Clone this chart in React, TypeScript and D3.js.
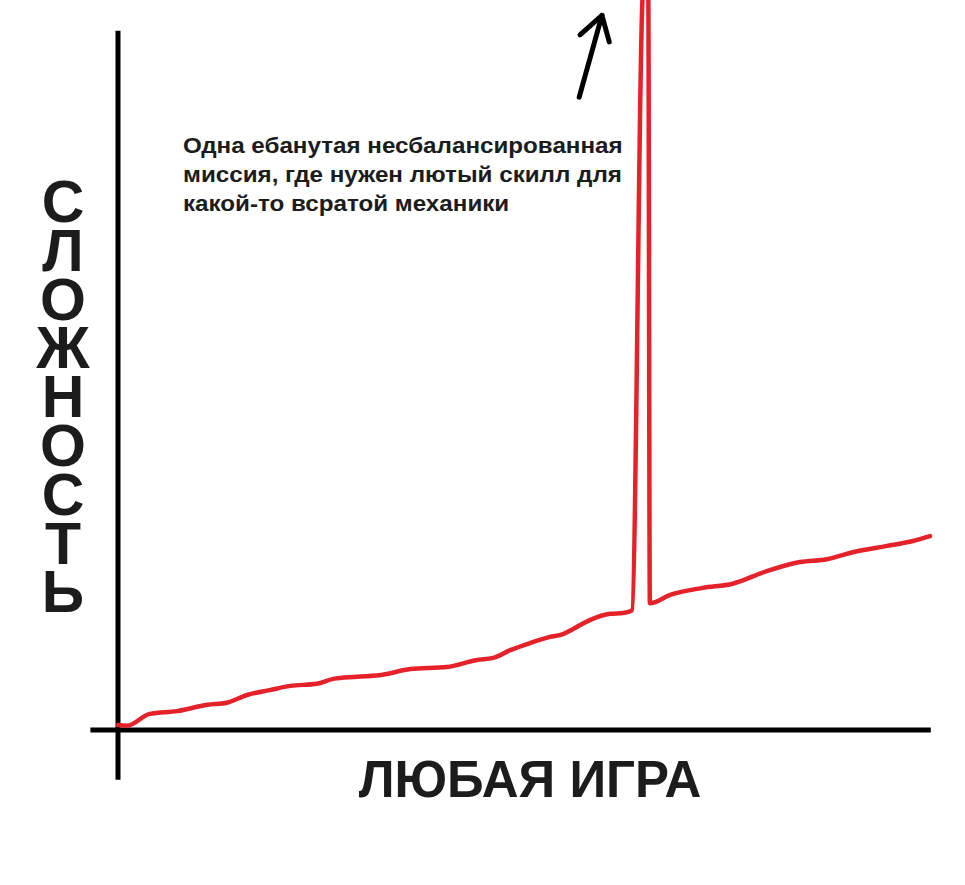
import React from "react";
import * as d3 from "d3";

// Game progress (x) vs difficulty (y) — hand-drawn curve
const progress = [0, 1.1, 3.9, 7.3, 11.0, 13.4, 15.9, 18.7, 21.2, 24.5, 26.5, 29.4, 32.6, 36.0, 40.5, 44.2, 46.2, 48.3, 50.7, 53.2, 54.8, 56.0, 58.1, 60.6, 62.2, 63.3, 64.7, 65.3, 65.5, 68.0, 72.0, 75.7, 79.9, 84.0, 87.3, 90.5, 94.7, 97.9, 100];
const difficulty = [0.7, 0.6, 2.3, 2.7, 3.6, 3.9, 5.0, 5.7, 6.3, 6.6, 7.3, 7.6, 7.9, 8.7, 9.0, 10.0, 10.3, 11.4, 12.4, 13.3, 13.7, 14.4, 15.7, 16.6, 16.7, 17.1, 106, 106, 18.1, 19.3, 20.3, 20.9, 22.7, 24.0, 24.4, 25.4, 26.3, 27.0, 27.7];

// Arrow pointing upward next to the spike (data units)
const arrowShaft = [[56.8, 90.4], [59.6, 102.1]];
const arrowHead = [[56.9, 99.3], [59.6, 102.1], [60.5, 98.3]];

const xLabel = "ЛЮБАЯ ИГРА";
const yLabel = "СЛОЖНОСТЬ";
const noteLines = [
  "Одна ебанутая несбалансированная",
  "миссия, где нужен лютый скилл для",
  "какой-то всратой механики",
];

const W = 965;
const H = 885;

export default function App() {
  const x = d3.scaleLinear().domain([0, 100]).range([118, 930]);
  const y = d3.scaleLinear().domain([0, 100]).range([730, 30]);

  const line = d3
    .line<[number, number]>()
    .x((d) => x(d[0]))
    .y((d) => y(d[1]))
    .curve(d3.curveLinear);

  const smooth = d3
    .line<[number, number]>()
    .x((d) => x(d[0]))
    .y((d) => y(d[1]))
    .curve(d3.curveMonotoneX);

  const pts: [number, number][] = progress.map((p, i) => [p, difficulty[i]]);

  const font = "'Liberation Sans', Arial, Helvetica, sans-serif";
  const letters = Array.from(yLabel);

  return (
    <svg
      width={W}
      height={H}
      style={{ position: "absolute", left: 0, top: 0, background: "#fff" }}
    >
      <rect x={0} y={0} width={W} height={H} fill="#fff" />
      {/* axes */}
      <line x1={x(0)} x2={x(0)} y1={y(99.9)} y2={y(-7.1)} stroke="#000" strokeWidth={5} />
      <line x1={x(-3.4)} x2={x(100.1)} y1={y(0)} y2={y(0)} stroke="#000" strokeWidth={5} />

      {/* red curve */}
      <path
        d={smooth(pts) || ""}
        fill="none"
        stroke="#e5212a"
        strokeWidth={4.5}
        strokeLinejoin="round"
        strokeLinecap="round"
      />

      {/* arrow */}
      <path d={line(arrowShaft as [number, number][]) || ""} fill="none" stroke="#000" strokeWidth={5} strokeLinecap="round" />
      <path d={line(arrowHead as [number, number][]) || ""} fill="none" stroke="#000" strokeWidth={5} strokeLinecap="round" strokeLinejoin="round" />

      {/* annotation */}
      <g transform="translate(183,0) scale(1.1,1)">
        <text fontFamily={font} fontWeight="bold" fontSize={22} fill="#1c1c1c">
          {noteLines.map((t, i) => (
            <tspan key={i} x={0} y={153 + i * 29}>
              {t}
            </tspan>
          ))}
        </text>
      </g>

      {/* y label, stacked letters */}
      <text
        textAnchor="middle"
        fontFamily={font}
        fontWeight="bold"
        fontSize={59}
        fill="#1c1c1c"
      >
        {letters.map((c, i) => (
          <tspan key={i} x={63} y={222 + i * 48.8}>
            {c}
          </tspan>
        ))}
      </text>

      {/* x label */}
      <text
        x={530}
        y={797}
        textAnchor="middle"
        fontFamily={font}
        fontWeight="bold"
        fontSize={51}
        fill="#1c1c1c"
      >
        {xLabel}
      </text>
    </svg>
  );
}
